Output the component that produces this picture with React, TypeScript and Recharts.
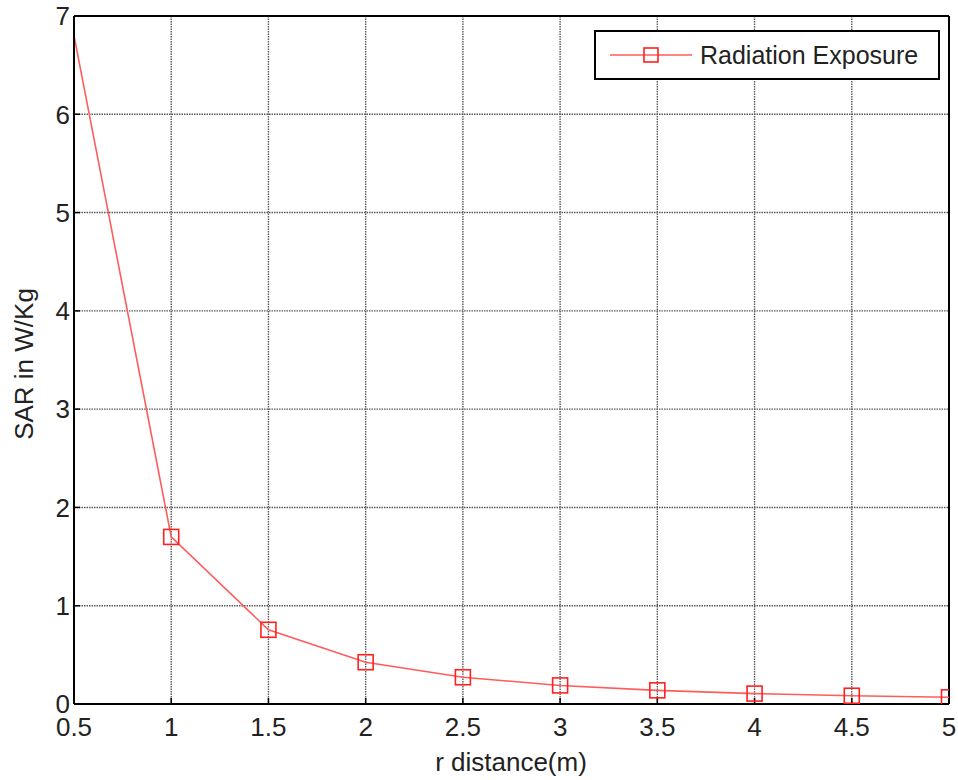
import React from "react"
import {
  LineChart,
  Line,
  XAxis,
  YAxis,
  CartesianGrid,
  ReferenceLine,
  Legend,
} from "recharts"

// r distance in metres and SAR (W/Kg)
const DISTANCES = [0.5, 1, 1.5, 2, 2.5, 3, 3.5, 4, 4.5, 5]
const SAR_VALUES = [6.8, 1.7, 0.755, 0.425, 0.272, 0.189, 0.139, 0.106, 0.084, 0.068]
const X_TICKS = [0.5, 1, 1.5, 2, 2.5, 3, 3.5, 4, 4.5, 5]
const Y_TICKS = [0, 1, 2, 3, 4, 5, 6, 7]
const SERIES_NAME = "Radiation Exposure"

const FONT = "'Liberation Sans', Arial, Helvetica, sans-serif"
const LINE_COLOR = "#ff5c5c"
const MARKER_COLOR = "#ff2020"

const chartData = DISTANCES.map((r, i) => ({ r, sar: SAR_VALUES[i] }))

// square markers, none on the first point
function SquareDot(props: any) {
  const { cx, cy, index } = props
  if (index === 0 || cx == null || cy == null) return <g key={`dot-${index}`} />
  const s = 15
  return (
    <rect
      key={`dot-${index}`}
      x={cx - s / 2}
      y={cy - s / 2}
      width={s}
      height={s}
      fill="none"
      stroke={MARKER_COLOR}
      strokeWidth={1.6}
    />
  )
}

function LegendBox() {
  return (
    <div
      style={{
        width: 342,
        height: 46,
        border: "2px solid #000",
        background: "#fff",
        display: "flex",
        alignItems: "center",
        fontFamily: FONT,
        fontSize: 25,
        color: "#222",
        boxSizing: "content-box",
      }}
    >
      <svg width={98} height={46} style={{ display: "block" }}>
        <line x1={14} y1={23} x2={96} y2={23} stroke={LINE_COLOR} strokeWidth={1.5} />
        <rect x={48} y={16} width={14} height={14} fill="none" stroke={MARKER_COLOR} strokeWidth={1.6} />
      </svg>
      <span style={{ marginLeft: 6 }}>{SERIES_NAME}</span>
    </div>
  )
}

export default function App() {
  const tickStyle = { fill: "#222", fontSize: 26, fontFamily: FONT }
  return (
    <div style={{ position: "absolute", left: 0, top: 0, width: 958, height: 780, background: "#fff" }}>
      <LineChart
        width={958}
        height={780}
        data={chartData}
        margin={{ top: 16, right: 9, left: 14, bottom: 36 }}
      >
        <CartesianGrid stroke="#5a5a5a" strokeWidth={1.4} strokeDasharray="1.5 1" />
        <XAxis
          dataKey="r"
          type="number"
          domain={[0.5, 5]}
          ticks={X_TICKS}
          height={40}
          tick={tickStyle}
          tickSize={-6}
          tickMargin={20}
          tickLine={{ stroke: "#000", strokeWidth: 1.5 }}
          axisLine={{ stroke: "#000", strokeWidth: 2 }}
          allowDataOverflow
          label={{
            content: () => (
              <text x={511} y={771} textAnchor="middle" fontSize={26} fontFamily={FONT} fill="#222">
                r distance(m)
              </text>
            ),
          }}
        />
        <YAxis
          type="number"
          domain={[0, 7]}
          ticks={Y_TICKS}
          width={60}
          tick={tickStyle}
          tickSize={-6}
          tickMargin={10}
          tickLine={{ stroke: "#000", strokeWidth: 1.5 }}
          axisLine={{ stroke: "#000", strokeWidth: 2 }}
          allowDataOverflow
          label={{
            content: () => (
              <text
                x={24}
                y={364}
                transform="rotate(-90 24 364)"
                textAnchor="middle"
                dominantBaseline="central"
                fontSize={26}
                fontFamily={FONT}
                fill="#222"
              >
                SAR in W/Kg
              </text>
            ),
          }}
        />
        <ReferenceLine y={7} stroke="#000" strokeWidth={2} />
        <ReferenceLine x={5} stroke="#000" strokeWidth={2} />
        <Legend
          layout="vertical"
          align="center"
          verticalAlign="middle"
          content={() => <LegendBox />}
          wrapperStyle={{ position: "absolute", left: 594, top: 30, width: "auto", height: "auto" }}
        />
        <Line
          type="linear"
          dataKey="sar"
          name={SERIES_NAME}
          stroke={LINE_COLOR}
          strokeWidth={1.6}
          dot={SquareDot}
          activeDot={false}
          isAnimationActive={false}
        />
      </LineChart>
    </div>
  )
}
